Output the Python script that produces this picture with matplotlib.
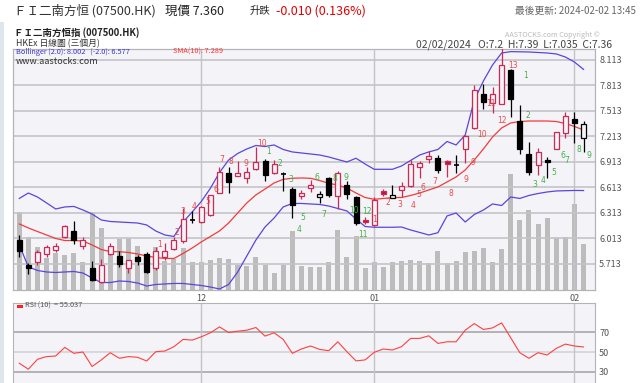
import matplotlib
matplotlib.use("Agg")
import matplotlib.pyplot as plt
from matplotlib.patches import Rectangle
import numpy as np

plt.rcParams['font.family'] = ['Noto Sans CJK TC', 'DejaVu Sans']

W, H = 640, 383

# daily candles, 2023-11-03 .. 2024-02-02
opens = [5.995, 5.70, 5.74, 5.83, 5.88, 6.03, 6.10, 5.92, 5.66, 5.50,
         5.83, 5.81, 5.67, 5.79, 5.83, 5.66, 5.80, 5.89, 5.98, 6.23,
         6.21, 6.29, 6.55, 6.78, 6.75, 6.73, 6.83, 6.93, 6.78, 6.77,
         6.60, 6.51, 6.61, 6.50, 6.72, 6.51, 6.64, 6.50, 6.23, 6.17,
         6.57, 6.49, 6.58, 6.63, 6.85, 6.95, 6.96, 6.92, 6.88, 7.07,
         7.31, 7.71, 7.61, 7.60, 7.99, 7.40, 7.01, 6.88, 6.94, 7.07,
         7.25, 7.42, 7.20]
highs = [6.054, 5.72, 5.878, 5.937, 5.964, 6.168, 6.222, 6.027, 5.752, 5.768,
         5.957, 5.866, 5.76, 5.819, 5.858, 5.909, 5.964, 6.034, 6.368, 6.336,
         6.395, 6.528, 6.858, 6.852, 6.925, 6.858, 7.086, 6.945, 6.937, 6.799,
         6.622, 6.584, 6.701, 6.576, 6.740, 6.811, 6.689, 6.513, 6.269, 6.498,
         6.592, 6.642, 6.681, 6.937, 6.928, 7.042, 6.995, 6.937, 6.995, 7.231,
         7.819, 7.827, 7.792, 8.30, 8.004, 7.584, 7.152, 7.074, 6.968, 7.27,
         7.505, 7.505, 7.39]
lows = [5.80, 5.595, 5.70, 5.792, 5.854, 6.015, 5.948, 5.886, 5.516, 5.486,
        5.819, 5.681, 5.611, 5.701, 5.611, 5.642, 5.76, 5.878, 5.964, 6.198,
        6.199, 6.278, 6.545, 6.552, 6.748, 6.662, 6.819, 6.693, 6.772, 6.572,
        6.251, 6.474, 6.564, 6.427, 6.505, 6.357, 6.474, 6.172, 6.184, 6.164,
        6.513, 6.486, 6.505, 6.622, 6.721, 6.898, 6.780, 6.740, 6.780, 6.898,
        7.301, 7.537, 7.486, 7.595, 7.446, 7.007, 6.760, 6.760, 6.728, 7.066,
        7.192, 7.133, 7.035]
closes = [5.866, 5.66, 5.85, 5.91, 5.93, 6.16, 5.99, 6.00, 5.53, 5.70,
          5.92, 5.71, 5.76, 5.75, 5.62, 5.86, 5.87, 6.00, 6.24, 6.23,
          6.38, 6.52, 6.79, 6.68, 6.78, 6.79, 6.91, 6.76, 6.89, 6.77,
          6.41, 6.55, 6.64, 6.54, 6.53, 6.78, 6.54, 6.19, 6.21, 6.47,
          6.54, 6.52, 6.63, 6.89, 6.90, 6.98, 6.82, 6.89, 6.88, 7.22,
          7.76, 7.62, 7.71, 8.05, 7.65, 7.06, 6.80, 7.03, 6.91, 7.26,
          7.45, 7.37, 7.36]
volumes = [78, 53, 43, 32, 37, 35, 37, 28, 78, 62,
           44, 51, 52, 44, 35, 43, 29, 31, 42, 28,
           28, 30, 32, 31, 25, 24, 33, 25, 17, 25,
           59, 24, 23, 23, 28, 60, 33, 54, 22, 28,
           23, 28, 29, 30, 29, 27, 39, 27, 29, 38,
           39, 42, 28, 41, 116, 70, 80, 66, 72, 52,
           53, 86, 46]
boll_upper = [6.484, 6.548, 6.501, 6.431, 6.360, 6.384, 6.390, 6.348, 6.301, 6.231,
              6.213, 6.207, 6.201, 6.195, 6.172, 6.101, 6.054, 6.037, 6.207, 6.325,
              6.448, 6.604, 6.789, 6.936, 7.013, 7.066, 7.107, 7.095, 7.113, 7.060,
              7.031, 7.019, 7.007, 6.995, 6.972, 6.942, 6.913, 6.957, 6.889, 6.827,
              6.827, 6.827, 6.866, 6.931, 6.995, 7.031, 7.060, 7.154, 7.113, 7.231,
              7.642, 7.866, 8.054, 8.195, 8.211, 8.209, 8.207, 8.201, 8.195, 8.184,
              8.148, 8.089, 8.002]
boll_lower = [5.937, 5.678, 5.637, 5.619, 5.613, 5.619, 5.625, 5.607, 5.548, 5.495,
              5.495, 5.513, 5.507, 5.489, 5.454, 5.472, 5.478, 5.484, 5.484, 5.472,
              5.460, 5.442, 5.419, 5.472, 5.619, 5.807, 5.995, 6.148, 6.254, 6.384,
              6.425, 6.425, 6.419, 6.413, 6.395, 6.366, 6.337, 6.242, 6.154, 6.145,
              6.145, 6.145, 6.148, 6.113, 6.084, 6.054, 6.081, 6.278, 6.313, 6.207,
              6.295, 6.348, 6.419, 6.401, 6.501, 6.484, 6.519, 6.542, 6.560, 6.572,
              6.575, 6.578, 6.577]
sma10 = [6.184, 6.137, 6.095, 6.054, 6.013, 5.989, 5.989, 5.984, 5.937, 5.884,
         5.858, 5.858, 5.848, 5.831, 5.807, 5.789, 5.778, 5.778, 5.837, 5.901,
         5.972, 6.037, 6.101, 6.195, 6.313, 6.431, 6.525, 6.595, 6.666, 6.709,
         6.721, 6.725, 6.721, 6.695, 6.662, 6.642, 6.607, 6.548, 6.495, 6.474,
         6.484, 6.493, 6.495, 6.519, 6.548, 6.584, 6.619, 6.678, 6.737, 6.819,
         6.937, 7.066, 7.207, 7.313, 7.372, 7.389, 7.395, 7.395, 7.395, 7.389,
         7.366, 7.331, 7.289]
rsi10 = [38.8, 32.8, 42.7, 45.4, 46.0, 54.6, 48.7, 50.0, 35.5, 42.0,
         49.3, 43.7, 45.4, 44.7, 41.0, 50.3, 51.0, 55.3, 62.6, 61.9,
         65.2, 69.2, 75.1, 69.5, 70.8, 71.8, 74.5, 65.9, 69.2, 62.6,
         48.7, 53.0, 56.0, 52.6, 51.3, 60.2, 50.3, 41.1, 42.1, 49.7,
         53.0, 52.0, 55.3, 63.6, 63.6, 66.2, 58.6, 60.2, 60.2, 71.8,
         78.4, 72.5, 74.1, 79.1, 64.2, 49.3, 43.7, 49.3, 47.0, 53.6,
         57.9, 56.0, 55.037]

month_pos = [20, 39, 61]
month_labels = ['12', '01', '02']
price_ticks = [5.713, 6.013, 6.313, 6.613, 6.913, 7.213, 7.513, 7.813, 8.113]
rsi_ticks = [30, 50, 70]

# count labels beside the candles: text, position (candle index), price
up_counts = ['1', '2', '3', '4', '5', '6', '7', '8', '9', '10',
             '1', '2', '3', '4', '5', '6', '7', '8', '9', '9', '10', '11', '12', '13']
up_pos = [15.4, 17.3, 18.0, 19.2, 20.7, 21.6, 22.2, 23.3, 24.95, 26.7,
          39.0, 40.5, 41.8, 43.3, 43.9, 44.4, 45.6, 47.4, 49.1, 49.9, 50.9, 51.8, 53.0, 54.3]
up_price = [5.945, 6.086, 6.336, 6.395, 6.448, 6.584, 6.945, 6.913, 6.893, 7.125,
            6.235, 6.434, 6.407, 6.403, 6.525, 6.615, 6.689, 6.537, 6.701, 6.905,
            7.239, 7.604, 7.399, 8.051]
down_counts = ['1', '2', '3', '4', '5', '6', '7', '8', '9', '10', '11', '12',
               '1', '2', '3', '4', '5', '6', '7', '8', '9']
down_pos = [27.4, 28.65, 29.8, 30.7, 31.2, 32.75, 33.5, 34.7, 35.9, 36.8, 37.8, 38.2,
            55.6, 55.9, 56.6, 57.6, 58.7, 59.75, 60.15, 61.5, 62.6]
down_price = [7.034, 6.898, 6.701, 6.121, 6.258, 6.728, 6.298, 6.713, 6.733, 6.348, 6.062, 6.33,
              7.928, 7.458, 6.651, 6.693, 6.787, 6.995, 6.925, 7.054, 6.992]

BG = '#f4f3f7'
GRID = '#c4c4c8'
RED = '#cc2a55'
COUNT_RED = '#ec4a4a'
COUNT_GREEN = '#44b04a'
BAND = '#5a46dc'


def fx(x):
    return x / W


def fy(y):
    return 1 - y / H


fig = plt.figure(figsize=(6.4, 3.83), dpi=100)
fig.patch.set_facecolor('white')

# left page strip
fig.add_artist(Rectangle((0, 0), fx(4), fy(22), transform=fig.transFigure,
                         facecolor='#dde7eb', edgecolor='none'))

# header line
fig.text(fx(14), fy(11), 'ＦＩ二南方恒 (07500.HK)', fontsize=9, color='#333333', va='center')
fig.text(fx(165), fy(11), '現價 7.360', fontsize=9, color='#222222', va='center')
fig.text(fx(250), fy(11), '升跌', fontsize=7.5, color='#222222', va='center')
fig.text(fx(276), fy(11), '-0.010 (0.136%)', fontsize=9, color='#e00000', va='center')
fig.text(fx(636), fy(11), '最後更新: 2024-02-02 13:45', fontsize=7, color='#666666',
         va='center', ha='right')

# chart header
fig.text(fx(14), fy(33), 'ＦＩ二南方恒指 (007500.HK)', fontsize=6.8, fontweight='bold',
         color='#222222', va='center')
fig.text(fx(16), fy(44), 'HKEx 日線圖 (三個月)', fontsize=6.3, color='#333333', va='center')
fig.text(fx(600), fy(35), 'AASTOCKS.com Copyright ©', fontsize=5.2, color='#bbbbbb',
         va='center', ha='right')
fig.text(fx(612), fy(44.5), '02/02/2024   O:7.2  H:7.39  L:7.035  C:7.36', fontsize=7.5,
         color='#444444', va='center', ha='right')

x = np.arange(len(closes))
xlim = (-0.69, 63.26)

# main price panel
rect_main = [fx(13), fy(290), fx(595) - fx(13), fy(49) - fy(290)]
ax_vol = fig.add_axes(rect_main)
ax_vol.set_facecolor(BG)
ax_vol.bar(x, volumes, width=0.55, color='#bcbcbc', zorder=1)
ax_vol.set_xlim(*xlim)
ax_vol.set_ylim(0, 241)
ax_vol.set_xticks([])
ax_vol.set_yticks([])

ax = fig.add_axes(rect_main)
ax.patch.set_visible(False)
ax.set_xlim(*xlim)
ax.set_ylim(5.407, 8.242)
for p in price_ticks:
    ax.axhline(p, color=GRID, lw=1.2, zorder=0)
for m in month_pos:
    ax.axvline(m, color=GRID, lw=1.0, zorder=0)

ax.plot(x, boll_upper, color=BAND, lw=0.9, zorder=3)
ax.plot(x, boll_lower, color=BAND, lw=0.9, zorder=3)
ax.plot(x, sma10, color='#f03c3c', lw=0.9, zorder=3)

bw = 0.55
for i in range(len(closes)):
    o, h, l, c = opens[i], highs[i], lows[i], closes[i]
    prev = closes[i - 1] if i > 0 else o
    col = RED if c >= prev else 'black'
    ax.vlines(i, l, h, color=col, lw=0.9, zorder=4)
    if c == o:
        ax.hlines(c, i - bw / 2, i + bw / 2, color=col, lw=1.2, zorder=5)
    else:
        face = BG if c > o else (col if col == 'black' else '#c01040')
        ax.add_patch(Rectangle((i - bw / 2, min(o, c)), bw, abs(c - o),
                               facecolor=face, edgecolor=col, lw=0.9, zorder=5))

for t, p, v in zip(up_counts, up_pos, up_price):
    ax.text(p, v, t, color=COUNT_RED, fontsize=5.5, ha='center', va='center', zorder=6,
            family='DejaVu Sans')
for t, p, v in zip(down_counts, down_pos, down_price):
    ax.text(p, v, t, color=COUNT_GREEN, fontsize=5.5, ha='center', va='center', zorder=6,
            family='DejaVu Sans')

ax.yaxis.tick_right()
ax.set_yticks(price_ticks, labels=[f'{p:.3f}' for p in price_ticks])
ax.set_xticks(month_pos, labels=month_labels)
ax.tick_params(length=0, labelsize=6.5, colors='#555555', pad=3)
ax.tick_params(axis='x', pad=3)
for a in (ax, ax_vol):
    for s in a.spines.values():
        s.set_color('#b4b4b4')
        s.set_linewidth(0.8)

fig.text(fx(16), fy(52), 'Bollinger (2.0): 8.002   (-2.0): 6.577', fontsize=5.3,
         color='#3838d0', va='center')
fig.text(fx(173), fy(52), 'SMA(10): 7.289', fontsize=5.3, color='#ff3333', va='center')
fig.text(fx(16), fy(61), 'www.aastocks.com', fontsize=6.5, color='#333333', va='center')

# RSI panel
ax_rsi = fig.add_axes([fx(13), fy(384), fx(595) - fx(13), fy(302.7) - fy(384)])
ax_rsi.set_facecolor(BG)
ax_rsi.set_xlim(*xlim)
ax_rsi.set_ylim(18, 99.3)
ax_rsi.axhline(70, color='#a8a8a8', lw=1.2, zorder=0)
ax_rsi.axhline(50, color='#d4d4d8', lw=1.2, zorder=0)
ax_rsi.axhline(30, color='#a8a8a8', lw=1.2, zorder=0)
for m in month_pos:
    ax_rsi.axvline(m, color=GRID, lw=1.0, zorder=0)
ax_rsi.plot(x, rsi10, color='#ff4040', lw=0.8, zorder=3)
ax_rsi.yaxis.tick_right()
ax_rsi.set_yticks(rsi_ticks, labels=[str(r) for r in rsi_ticks])
ax_rsi.set_xticks([])
ax_rsi.tick_params(length=0, labelsize=6.5, colors='#555555', pad=3)
for s in ax_rsi.spines.values():
    s.set_color('#b4b4b4')
    s.set_linewidth(0.8)
fig.add_artist(Rectangle((fx(17), fy(307.5)), fx(6), fy(305) - fy(307.5),
                         transform=fig.transFigure, facecolor='#ff2020', edgecolor='none'))
fig.text(fx(25), fy(306), 'RSI (10)  = 55.037', fontsize=5.3, color='#555555', va='center')

fig.savefig('out.png', dpi=100, facecolor=fig.get_facecolor())
